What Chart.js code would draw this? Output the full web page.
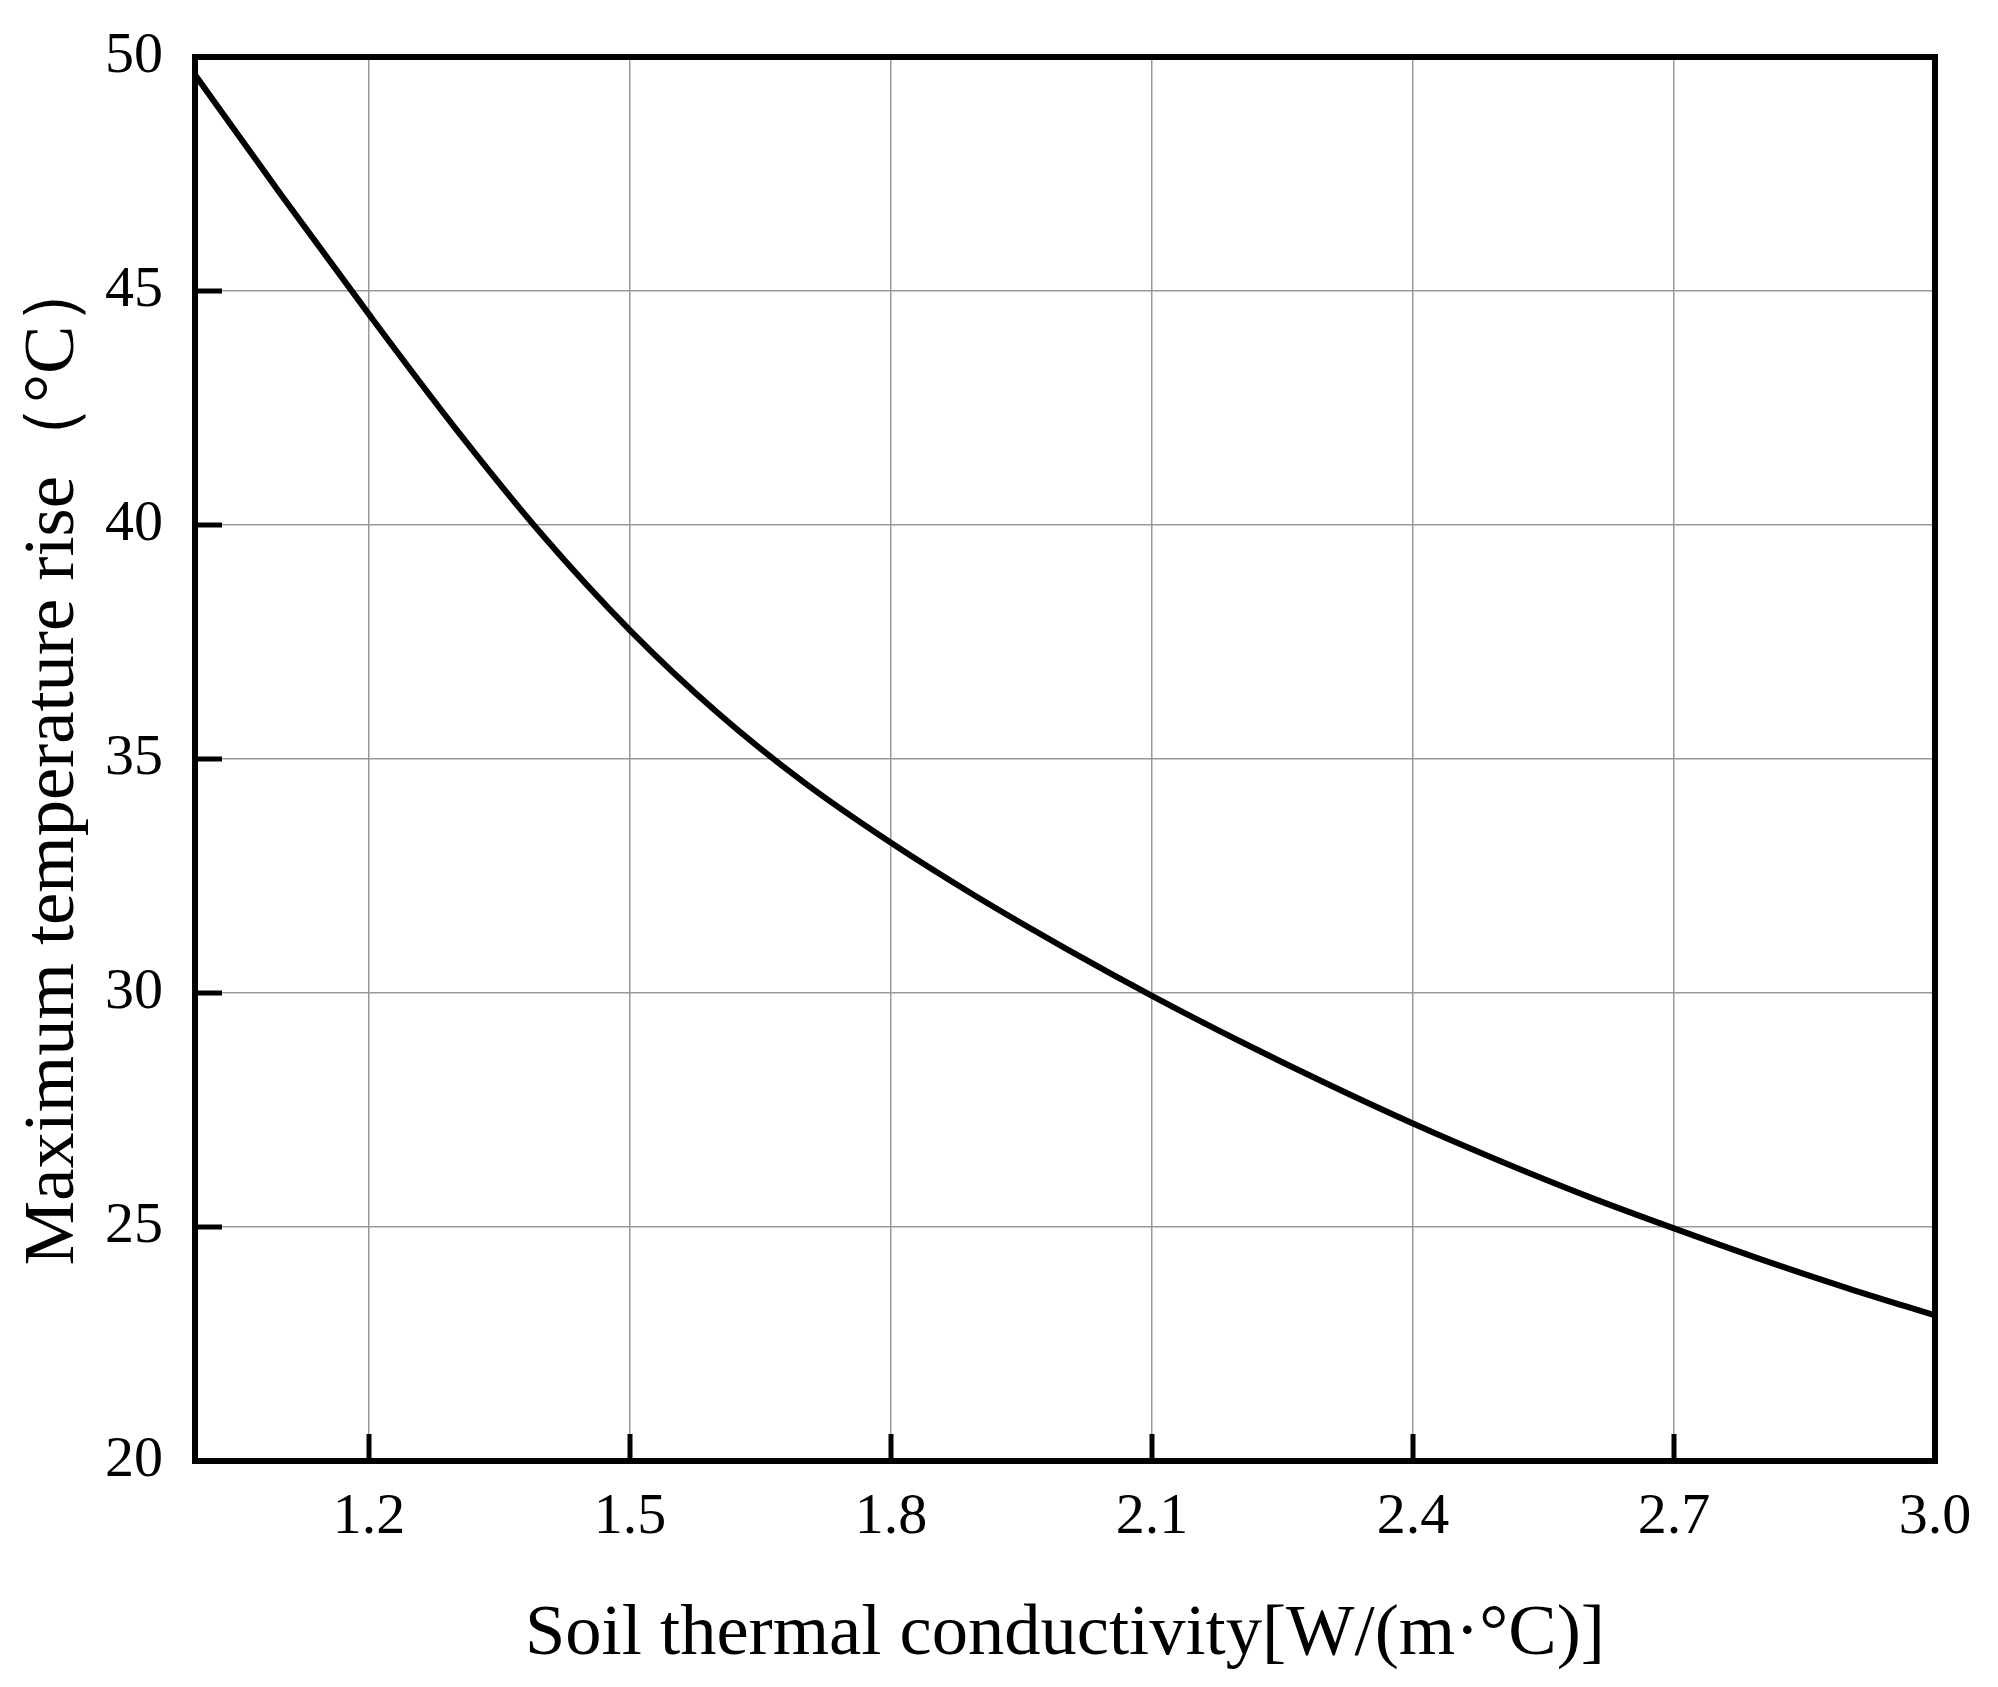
<!DOCTYPE html>
<html><head><meta charset="utf-8">
<script src="https://cdn.jsdelivr.net/npm/chart.js@4"></script>
<style>html,body{margin:0;padding:0;background:#fff}#wrap{width:1998px;height:1687px;position:relative}</style>
</head><body><div id="wrap"><canvas id="c"></canvas></div>
<script>
const conductivity = [1.0,1.1,1.2,1.3,1.4,1.5,1.6,1.7,1.8,1.9,2.0,2.1,2.2,2.3,2.4,2.5,2.6,2.7,2.8,2.9,3.0];
const tempRise = [49.62,47.03,44.50,42.05,39.77,37.75,36.00,34.50,33.21,32.04,30.96,29.94,28.98,28.07,27.21,26.41,25.66,24.97,24.31,23.69,23.11];
const xTickValues = [1.2,1.5,1.8,2.1,2.4,2.7,3.0];
const yTickValues = [20,25,30,35,40,45,50];
const xTitle = 'Soil thermal conductivity[W/(m·°C)]';
const yTitle = 'Maximum temperature rise（°C）';

const FONT = "'Liberation Serif','Times New Roman',serif";

const framePlugin = {
  id: 'frame',
  afterDatasetsDraw(chart) {
    const {ctx, chartArea: a, scales: {x, y}} = chart;
    ctx.save();
    ctx.strokeStyle = '#000';
    ctx.lineWidth = 5;
    ctx.lineCap = 'butt';
    const L = 27;
    xTickValues.forEach(v => {
      const px = x.getPixelForValue(v);
      ctx.beginPath(); ctx.moveTo(px, a.bottom); ctx.lineTo(px, a.bottom - L); ctx.stroke();
    });
    yTickValues.forEach(v => {
      const py = y.getPixelForValue(v);
      ctx.beginPath(); ctx.moveTo(a.left, py); ctx.lineTo(a.left + L, py); ctx.stroke();
    });
    ctx.lineWidth = 6;
    ctx.strokeRect(a.left, a.top, a.right - a.left, a.bottom - a.top);
    ctx.restore();
  }
};

new Chart(document.getElementById('c'), {
  type: 'line',
  data: {
    datasets: [{
      data: conductivity.map((v, i) => ({x: v, y: tempRise[i]})),
      borderColor: '#000',
      borderWidth: 6,
      pointRadius: 0,
      fill: false,
      cubicInterpolationMode: 'monotone'
    }]
  },
  options: {
    responsive: true,
    maintainAspectRatio: false,
    devicePixelRatio: 1,
    animation: false,
    layout: {padding: {left: 0, right: 63, top: 57, bottom: 0}},
    plugins: {legend: {display: false}, tooltip: {enabled: false}},
    scales: {
      x: {
        type: 'linear', min: 1.0, max: 3.0,
        afterBuildTicks: s => { s.ticks = xTickValues.map(v => ({value: v})); },
        afterFit: s => { s.height = 226; s.paddingLeft = 0; s.paddingRight = 0; },
        border: {display: false},
        grid: {color: '#999', lineWidth: 1.5, drawTicks: false},
        ticks: {color: '#000', padding: 22, maxRotation: 0, autoSkip: false,
          font: {family: FONT, size: 58}, callback: v => Number(v).toFixed(1)},
        title: {display: true, text: xTitle, color: '#000',
          font: {family: FONT, size: 72.5}, padding: {top: 0, bottom: 9}}
      },
      y: {
        type: 'linear', min: 20, max: 50,
        afterBuildTicks: s => { s.ticks = yTickValues.map(v => ({value: v})); },
        afterFit: s => { s.width = 195; s.paddingTop = 0; s.paddingBottom = 0; },
        border: {display: false},
        grid: {color: '#999', lineWidth: 1.5, drawTicks: false},
        ticks: {color: '#000', padding: 32, autoSkip: false,
          font: {family: FONT, size: 58}},
        title: {display: true, text: yTitle, color: '#000',
          font: {family: FONT, size: 72.5}, padding: {top: 10, bottom: 0}}
      }
    }
  },
  plugins: [framePlugin]
});
</script></body></html>
